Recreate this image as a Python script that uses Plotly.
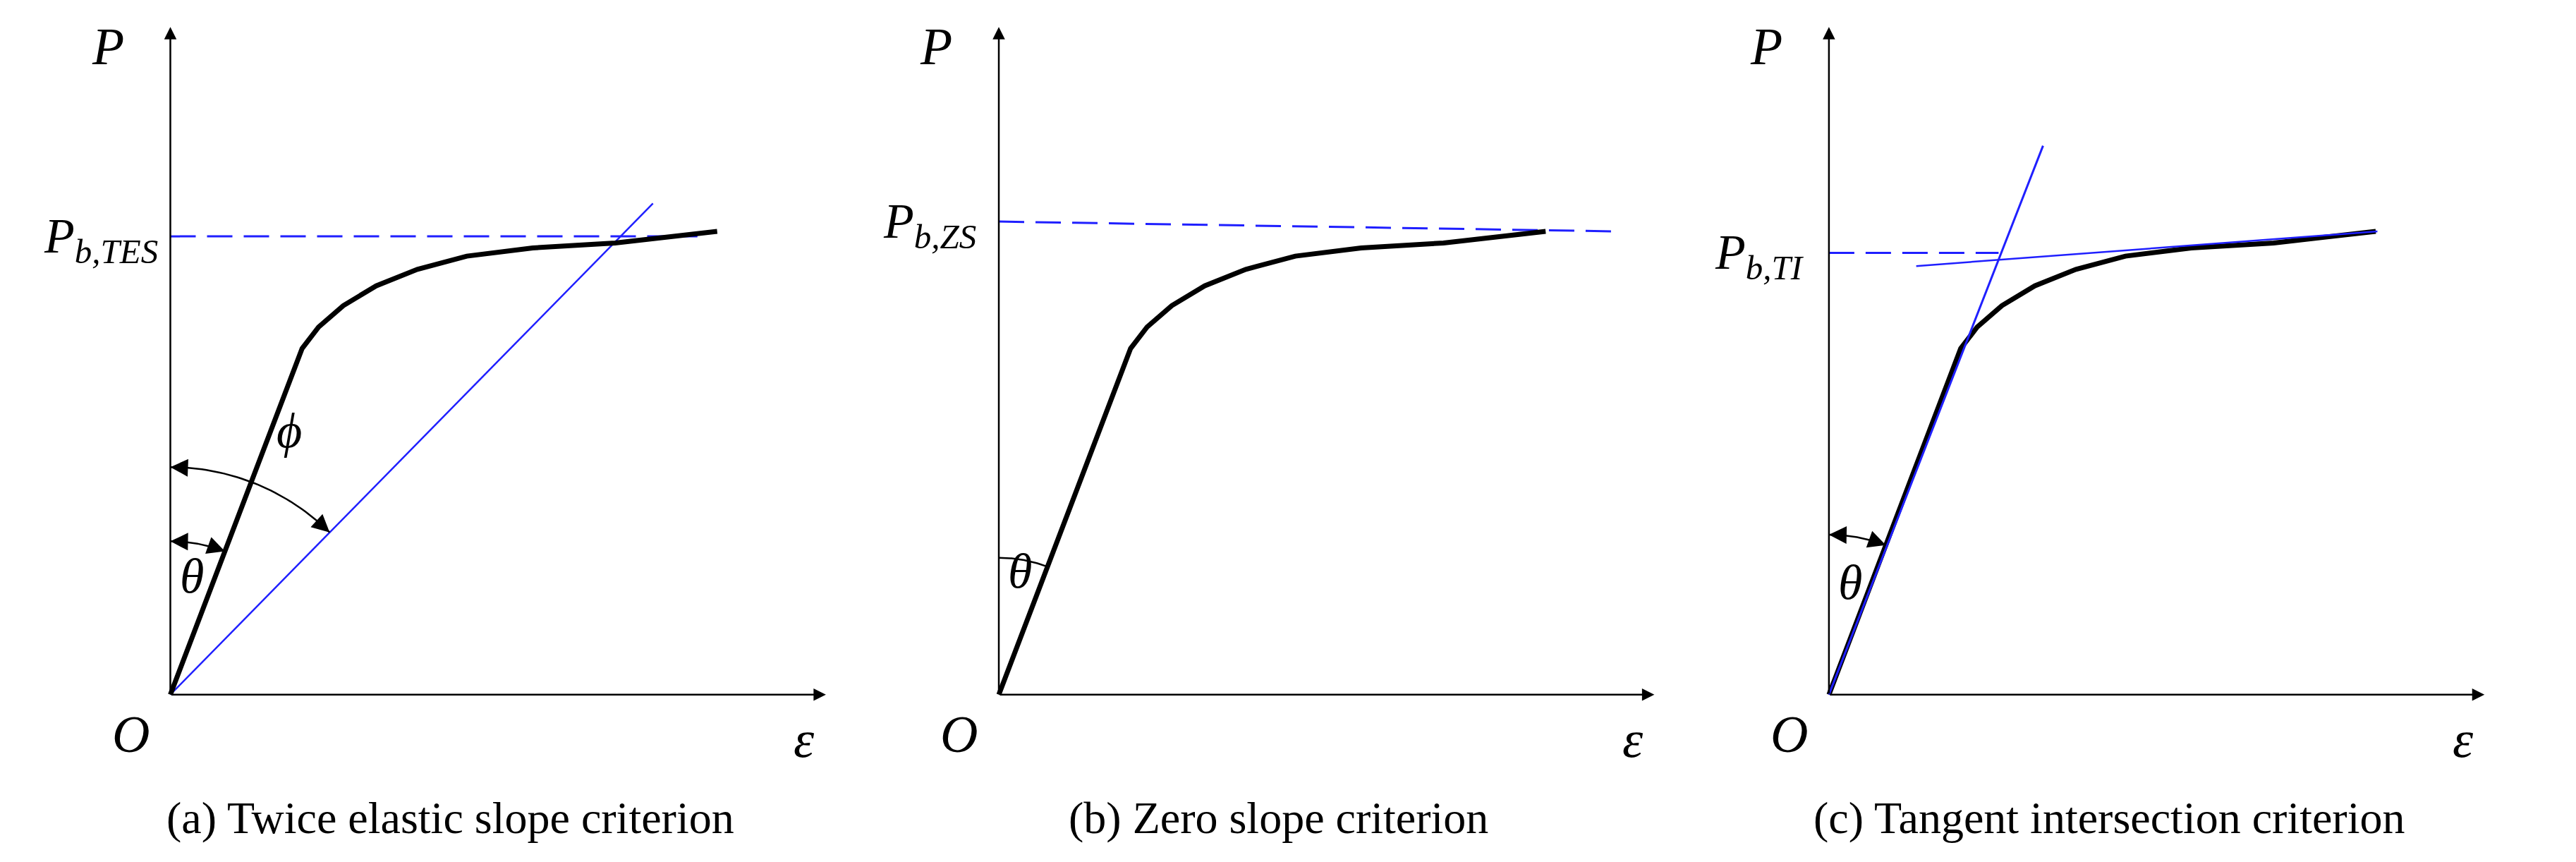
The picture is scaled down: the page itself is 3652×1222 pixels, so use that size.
import numpy as np
import plotly.graph_objects as go

# panel origins in sketch units (x right, y up); image is 1564 x 523 sketch units
ORIGINS = [(100, 105), (603, 105), (1107, 105)]
CAPTIONS = ["(a) Twice elastic slope criterion", "(b) Zero slope criterion",
            "(c) Tangent intersection criterion"]
LOAD_LABELS = ["b,TES", "b,ZS", "b,TI"]
LOAD_Y = [383, 392, 373]

# load-strain curve (local coords: strain offset, load offset)
curve_eps = [0, 80, 90, 105, 125, 150, 180, 220, 270, 332]
curve_p = [0, 210, 223, 236, 248, 258, 266, 271, 274, 281]

BLACK = "black"
BLUE = "#1f1fff"
FONT = "Liberation Serif"
DASH = "36px,16px"

fig = go.Figure()


def line(x, y, color, width, dash=None):
    fig.add_trace(go.Scatter(x=x, y=y, mode="lines", hoverinfo="skip",
                             line=dict(color=color, width=width, dash=dash)))


def arrow(x0, y0, x1, y1, size=1.0):
    fig.add_annotation(x=x1, y=y1, ax=x0, ay=y0, xref="x", yref="y", axref="x", ayref="y",
                       text="", showarrow=True, arrowhead=2, arrowsize=size,
                       arrowwidth=2.5, arrowcolor=BLACK)


def text(x, y, s, size=50):
    fig.add_annotation(x=x, y=y, xref="x", yref="y", text=s, showarrow=False,
                       font=dict(family=FONT, size=size, color=BLACK))


def angle_arc(ox, oy, r, a0, a1):
    # angles measured from vertical, degrees
    t = np.radians(np.linspace(a0, a1, 40))
    xs = ox + r * np.sin(t)
    ys = oy + r * np.cos(t)
    line(list(xs), list(ys), BLACK, 2.5)
    arrow(xs[4], ys[4], xs[0], ys[0], 2)
    arrow(xs[-5], ys[-5], xs[-1], ys[-1], 2)


elastic_angle = np.degrees(np.arctan(curve_eps[1] / curve_p[1]))

for i, (ox, oy) in enumerate(ORIGINS):
    # axes
    arrow(ox, oy, ox, oy + 405, 1.4)
    arrow(ox, oy, ox + 398, oy, 1.4)
    text(ox - 38, oy + 393, "<i>P</i>", 74)
    text(ox - 24, oy - 24, "<i>O</i>", 74)
    text(ox + 385, oy - 27, "<i>ε</i>", 74)
    text(ox + 170, 30, CAPTIONS[i], 64)
    text(ox - 42, LOAD_Y[i] - 2,
         "<i>P</i><sub><i>" + LOAD_LABELS[i] + "</i></sub>", 70)

    cx = [ox + e for e in curve_eps]
    cy = [oy + p for p in curve_p]

    if i == 0:
        line([ox, ox + 320], [LOAD_Y[i], LOAD_Y[i]], BLUE, 3, DASH)
        line([ox, ox + 293], [oy, oy + 298], BLUE, 2.5)
        line(cx, cy, BLACK, 7)
        angle_arc(ox, oy, 93, 0, elastic_angle)
        angle_arc(ox, oy, 138, 0, 44.5)
        text(ox + 13, oy + 72, "<i>θ</i>", 70)
        text(ox + 72, oy + 160, "<i>ϕ</i>", 70)
    elif i == 1:
        line([ox, ox + 377], [LOAD_Y[i], LOAD_Y[i] - 6], BLUE, 3, DASH)
        line(cx, cy, BLACK, 7)
        angle_arc(ox, oy, 83, 0, elastic_angle)
        text(ox + 13, oy + 75, "<i>θ</i>", 70)
    else:
        line(cx, cy, BLACK, 7)
        line([ox, ox + 103], [LOAD_Y[i], LOAD_Y[i]], BLUE, 3, DASH)
        line([ox, ox + 130], [oy, oy + 333], BLUE, 3)
        line([ox + 53, ox + 333], [oy + 260, oy + 281], BLUE, 2.5)
        angle_arc(ox, oy, 97, 0, elastic_angle)
        text(ox + 13, oy + 68, "<i>θ</i>", 70)

fig.update_layout(
    width=3652, height=1222, margin=dict(l=0, r=0, t=0, b=0),
    plot_bgcolor="white", paper_bgcolor="white", showlegend=False,
    xaxis=dict(range=[0, 1564], visible=False),
    yaxis=dict(range=[0, 523], visible=False),
)

fig.write_html("out.html")
